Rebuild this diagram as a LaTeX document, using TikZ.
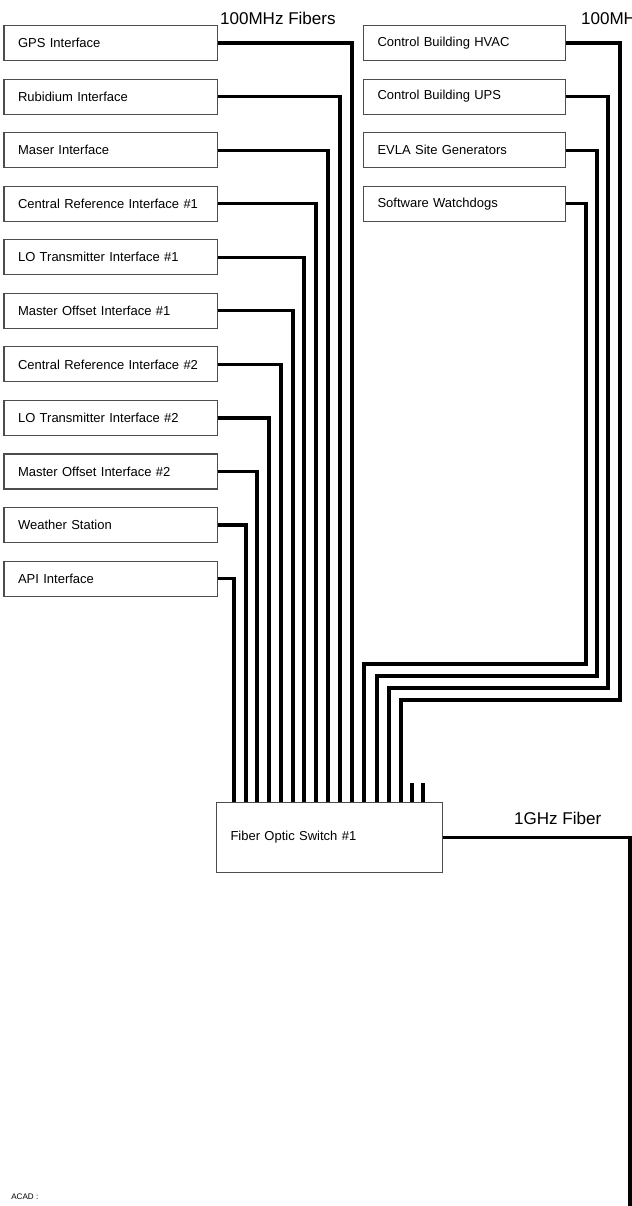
\documentclass[tikz,border=0pt]{standalone}
\usepackage{fontspec}
\setmainfont{Liberation Sans}
\usepackage{tikz}
\usetikzlibrary{positioning,calc}
\tikzset{
  iface/.style={rectangle, draw=black!70, line width=0.6pt, text width=#1, align=left,
                inner xsep=2.8mm, minimum height=0.7cm, font=\fontsize{7.4}{8.5}\selectfont},
  fiber/.style={line width=1.8pt, draw=black},
  tag/.style={inner sep=1pt, font=\fontsize{9.7}{11}\selectfont},
}
\begin{document}
\begin{tikzpicture}[x=0.2mm, y=-0.2mm, node distance=3.5mm]
  \clip (0,0) rectangle (632,1206);
  % left column
  \node[iface=3.7cm, anchor=north west] (gps) at (3.5,25) {GPS Interface};
  \node[iface=3.7cm, below=of gps] (rub) {Rubidium Interface};
  \node[iface=3.7cm, below=of rub] (maser) {Maser Interface};
  \node[iface=3.7cm, below=of maser] (cref1) {Central Reference Interface \#1};
  \node[iface=3.7cm, below=of cref1] (lot1) {LO Transmitter Interface \#1};
  \node[iface=3.7cm, below=of lot1] (moff1) {Master Offset Interface \#1};
  \node[iface=3.7cm, below=of moff1] (cref2) {Central Reference Interface \#2};
  \node[iface=3.7cm, below=of cref2] (lot2) {LO Transmitter Interface \#2};
  \node[iface=3.7cm, below=of lot2] (moff2) {Master Offset Interface \#2};
  \node[iface=3.7cm, below=of moff2] (wx) {Weather Station};
  \node[iface=3.7cm, below=of wx] (api) {API Interface};
  % right column
  \node[iface=3.48cm, anchor=north west] (hvac) at (363,25) {Control Building HVAC};
  \node[iface=3.48cm, below=of hvac] (ups) {Control Building UPS};
  \node[iface=3.48cm, below=of ups] (gen) {EVLA Site Generators};
  \node[iface=3.48cm, below=of gen] (wdog) {Software Watchdogs};
  % switch
  \node[iface=3.96cm, minimum height=1.4cm, anchor=north west] (sw) at (216,802) {Fiber Optic Switch \#1};
  \node[tag, anchor=west] (mhzA) at (218,18.5) {100MHz Fibers};
  \node[tag, anchor=west] (mhzB) at (579,18.5) {100MHz Fibers};
  \node[tag, anchor=west] (ghz) at (512,818.5) {1GHz Fiber};
  \node[inner sep=0pt, anchor=west, font=\fontsize{4.6}{5}\selectfont] (acad) at (11,1197) {ACAD :};
  \coordinate (gend) at (630,1212);

  \draw[fiber] (gps.east) -| ($(sw.north west)+(136,0)$); \draw[fiber] (rub.east) -| ($(sw.north west)+(124,0)$);
  \draw[fiber] (maser.east) -| ($(sw.north west)+(112,0)$); \draw[fiber] (cref1.east) -| ($(sw.north west)+(100,0)$);
  \draw[fiber] (lot1.east) -| ($(sw.north west)+(88,0)$); \draw[fiber] (moff1.east) -| ($(sw.north west)+(77,0)$);
  \draw[fiber] (cref2.east) -| ($(sw.north west)+(65,0)$); \draw[fiber] (lot2.east) -| ($(sw.north west)+(53,0)$);
  \draw[fiber] (moff2.east) -| ($(sw.north west)+(41,0)$); \draw[fiber] (wx.east) -| ($(sw.north west)+(30,0)$);
  \draw[fiber] (api.east) -| ($(sw.north west)+(18,0)$);
  \draw[fiber] (hvac.east) -| (620,700) -| ($(sw.north west)+(185,0)$);
  \draw[fiber] (ups.east) -| (608,688) -| ($(sw.north west)+(173,0)$);
  \draw[fiber] (gen.east) -| (597,676) -| ($(sw.north west)+(161,0)$);
  \draw[fiber] (wdog.east) -| (586,664) -| ($(sw.north west)+(148,0)$);
  \draw[fiber] ($(sw.north west)+(196,0)$) -- ++(0,-19); \draw[fiber] ($(sw.north west)+(207,0)$) -- ++(0,-19);
  \draw[fiber] (sw.east) -| (gend);
\end{tikzpicture}
\end{document}
